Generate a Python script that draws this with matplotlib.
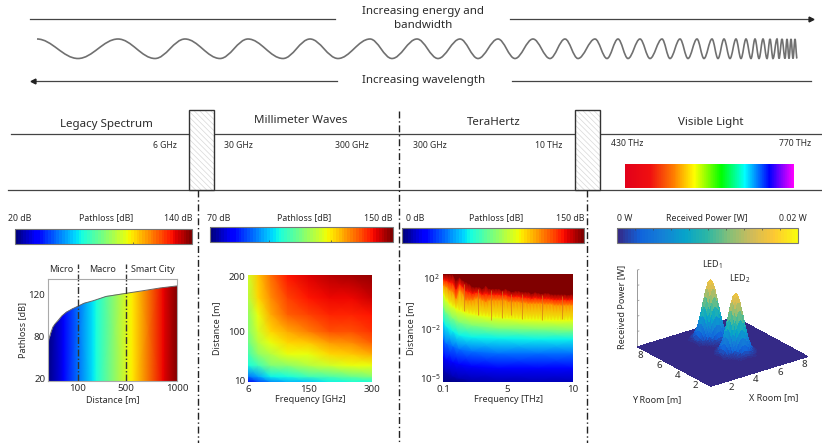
import numpy as np
import matplotlib
matplotlib.use('Agg')
import matplotlib.pyplot as plt
from matplotlib.cm import ScalarMappable
from matplotlib.colors import LinearSegmentedColormap, Normalize
from matplotlib.patches import PathPatch, Rectangle
from matplotlib.path import Path
from matplotlib.transforms import ScaledTranslation

plt.rcParams['font.family'] = ['Noto Sans', 'DejaVu Sans']
plt.rcParams['mathtext.fontset'] = 'custom'
plt.rcParams['mathtext.rm'] = 'Noto Sans'
plt.rcParams['mathtext.default'] = 'regular'
plt.rcParams['hatch.linewidth'] = 0.5

W, H = 822, 443
TXT = '#2b2b2b'
LABEL_SIZE = 6.5
TICK_SIZE = 7

# wave crests and troughs, alternating, left to right
wave_extrema = [37, 78, 118, 155, 185, 220, 248, 283, 310, 338, 370, 392, 417, 438, 460, 478,
                498, 515, 533, 550, 565, 578, 595, 607, 618, 628, 640, 650, 662, 670, 680, 688,
                697, 704, 712, 718, 724, 730, 736, 741, 746, 751, 755, 759, 763, 767, 770, 773,
                777, 779, 782, 785, 787, 789, 791, 793, 795, 797]

rainbow_pos = [0, 0.15, 0.29, 0.41, 0.57, 0.71, 0.855, 1]
rainbow_col = ['#e2001a', '#f01010', '#ff8000', '#ffff00', '#00ff00', '#00ffff', '#0000ff', '#ff00ff']
parula_col = ['#352a87', '#1064dc', '#1481d6', '#06a4ca', '#2eb7a4', '#87bf77', '#d1bb59', '#fec832', '#f9fb0e']

# legacy spectrum panel
curve_dist = [1, 1, 2, 4, 6, 10, 17, 25, 34, 47, 62, 80, 100, 150, 228, 333, 500, 669, 831, 1000]
curve_loss = [20, 63, 71, 76, 79, 83, 88.7, 92, 95, 99.5, 103, 106, 108.7, 111.5, 114, 118, 121, 123.5, 126, 128]
fill_dist = [1, 48, 54, 225, 253, 545, 569, 862, 882, 1000]
fill_db = [20, 33, 35, 62, 65, 97, 99, 127, 129, 140]
dist_ticks = [100, 500, 1000]
loss_ticks = [20, 80, 120]

# millimeter wave panel
mm_freq = [6, 30, 60, 100, 150, 200, 250, 300]
mm_dist = [10, 20, 40, 60, 80, 100, 130, 160, 200]
mm_db = [[78, 86, 90, 94, 96, 99, 100, 101],
         [89, 93, 99, 101, 104, 106, 108, 110],
         [100, 104, 110, 112, 115, 118, 120, 120],
         [104, 112, 116, 120, 121, 124, 126, 128],
         [108, 116, 121, 124, 126, 129, 131, 134],
         [110, 118, 124, 128, 132, 135, 136, 138],
         [112, 121, 128, 134, 137, 139, 139, 140],
         [115, 124, 131, 137, 140, 142, 142, 144],
         [118, 126, 133, 140, 143, 146, 147, 148]]

# terahertz panel, lower part: exponent of the distance where each dB level sits
thz_low_freq = [0.1, 0.35, 0.85, 1.35, 2.35, 4.35, 7.35, 10]
thz_low_exp = [[-5.3, -5.3, -5.3, -5.3, -5.3, -5.3, -5.3, -5.3],
               [-4.39, -4.63, -4.88, -5.0, -5.1, -5.2, -5.25, -5.25],
               [-3.65, -3.84, -4.02, -4.14, -4.27, -4.39, -4.39, -4.39],
               [-2.55, -2.86, -3.04, -3.22, -3.35, -3.47, -3.47, -3.47],
               [-1.29, -1.76, -2.12, -2.37, -2.49, -2.55, -2.61, -2.61],
               [-0.2, -0.67, -1.14, -1.45, -1.69, -1.92, -2.0, -2.06],
               [0.8, 0.33, -0.2, -0.51, -0.82, -1.08, -1.27, -1.29]]
thz_low_db = [[0, 0, 0, 2, 5, 8, 9, 9],
              [9] * 8, [19] * 8, [37] * 8, [56] * 8, [75] * 8, [95] * 8]

# terahertz panel, upper part
thz_freq = [0.1, 0.35, 0.6, 0.85, 1.1, 1.35, 1.6, 1.85, 2.1, 2.35, 2.6, 2.85, 3.1, 3.35,
            3.6, 3.85, 4.1, 4.35, 4.6, 4.85, 5.1, 5.35, 5.6, 5.85, 6.1, 6.35, 6.6, 6.85,
            7.1, 7.35, 7.6, 7.85, 8.1, 8.35, 8.6, 8.85, 9.1, 9.35, 9.6, 9.85, 10]
yellow_exp = [0.8, 0.33, 0.01, -0.2, -0.38, -0.51, -0.61, -0.69, -0.77, -0.82, -0.87, -0.93, -0.95, -0.98,
              -1.01, -1.03, -1.06, -1.08, -1.11, -1.14, -1.14, -1.16, -1.16, -1.19, -1.19, -1.22, -1.22, -1.24,
              -1.24, -1.24, -1.27, -1.27, -1.27, -1.29, -1.29, -1.29, -1.29, -1.29, -1.29, -1.29, -1.29]
orange_exp = [1.45, 1.32, 1.06, 0.93, 0.41, 1.06, 0.8, 0.27, 0.27, 0.27, 0.41, 0.41, 0.27, 0.14,
              0.27, 0.27, 0.27, 0.27, 0.27, 0.27, 0.14, 0.14, 0.14, 0.14, 0.07, 0.07, 0.01, 0.01,
              0.01, 0.01, 0.01, -0.04, -0.04, -0.04, -0.12, -0.12, -0.12, -0.12, -0.12, -0.12, -0.12]
red_exp = [1.88, 1.82, 1.69, 1.62, 1.13, 1.58, 1.32, 0.99, 0.93, 0.8, 0.87, 0.87, 0.73, 0.8,
           0.73, 0.73, 0.73, 0.73, 0.67, 0.73, 0.6, 0.55, 0.58, 0.58, 0.5, 0.5, 0.47, 0.41,
           0.47, 0.43, 0.41, 0.41, 0.41, 0.36, 0.32, 0.32, 0.32, 0.32, 0.29, 0.32, 0.32]
dark_exp = [2.31, 2.31, 2.31, 2.31, 1.84, 2.1, 1.84, 1.71, 1.58, 1.32, 1.32, 1.32, 1.19, 1.45,
            1.19, 1.19, 1.19, 1.19, 1.06, 1.19, 1.06, 0.93, 1.01, 1.01, 0.93, 0.93, 0.93, 0.8,
            0.93, 0.85, 0.8, 0.85, 0.85, 0.75, 0.75, 0.75, 0.75, 0.75, 0.69, 0.75, 0.75]
top_levels_db = [95, 113, 133, 150, 150]
# absorption lines
line_freq = [1.68, 2.78, 3.72, 4.57, 5.28, 6.1, 7.63, 9.16]
line_low = [-0.6, -0.9, -1.3, -1.1, -0.9, -1.2, -1.3, -1.2]
line_high = [1.5, 1.15, 1.05, 0.95, 0.75, 0.75, 0.65, 0.55]

# visible light panel: power in mW along a line from a LED centre outwards, 0.125 m steps
led_profile = [19.6, 19, 17.3, 14.8, 11.9, 8.9, 6.4, 4.2, 2.6, 1.5, 0.9, 0.5, 0.2]
led_cells = [(48, 36), (26, 36)]  # (y index, x index) of the two LEDs
room_ticks = [2, 4, 6, 8]


def rect_of(x0, y0, x1, y1):
    return [x0 / W, 1 - y1 / H, (x1 - x0) / W, (y1 - y0) / H]


def piecewise(vals, pos):
    return (lambda v: np.interp(v, vals, pos), lambda p: np.interp(p, pos, vals))


def style_axes(ax, edge=None):
    ax.tick_params(length=0, labelsize=TICK_SIZE, labelcolor=TXT, pad=2)
    for s in ax.spines.values():
        s.set_visible(edge is not None)
        if edge:
            s.set_color(edge)
            s.set_linewidth(0.8)


def nudge(label, px):
    # move a tick label up by px pixels
    label.set_transform(label.get_transform() + ScaledTranslation(0, px / 100, fig.dpi_scale_trans))


def pixel_axes(z):
    ax = fig.add_axes([0, 0, 1, 1], zorder=z)
    ax.set_xlim(0, W)
    ax.set_ylim(H, 0)
    ax.set_xticks([])
    ax.set_yticks([])
    ax.axis('off')
    return ax


def draw_bar(rect, cmap, lo, hi, ticks=(), top=False):
    cax = fig.add_axes(rect_of(*rect))
    cb = fig.colorbar(ScalarMappable(Normalize(lo, hi), cmap), cax=cax, orientation='horizontal')
    cb.set_ticks(ticks)
    cb.minorticks_off()
    cb.outline.set_edgecolor('#777777')
    cb.outline.set_linewidth(0.8)
    cax.tick_params(direction='in', length=1.5, width=0.5, color='#444444', labelbottom=False,
                    bottom=not top, top=top)
    return cb


fig = plt.figure(figsize=(W / 100, H / 100), dpi=100)

# page level drawing, in pixels
bg = pixel_axes(0)

# wave as bezier arcs between crests and troughs
verts = []
codes = []
for i, xv in enumerate(wave_extrema):
    yv = 39 if i % 2 == 0 else 58.5
    if i == 0:
        verts.append((xv, yv))
        codes.append(Path.MOVETO)
    else:
        xp = wave_extrema[i - 1]
        yp = 39 if i % 2 == 1 else 58.5
        dx = (xv - xp) * 0.36
        verts += [(xp + dx, yp), (xv - dx, yv), (xv, yv)]
        codes += [Path.CURVE4] * 3
bg.add_patch(PathPatch(Path(verts, codes), fc='none', ec='#707070', lw=1.2))

for x0, x1, y in [(30, 335, 19), (33, 337, 81), (510, 811, 19), (512, 811, 81)]:
    bg.plot([x0, x1], [y, y], color='#444444', lw=0.9)
bg.plot(811, 19, marker='>', ms=3.5, color='#222222')
bg.plot(33, 81, marker='<', ms=3.5, color='#222222')

bg.text(423, 11, 'Increasing energy and', ha='center', va='center', fontsize=8.3, color=TXT)
bg.text(423, 25, 'bandwidth', ha='center', va='center', fontsize=8.3, color=TXT)
bg.text(424, 80, 'Increasing wavelength', ha='center', va='center', fontsize=8.3, color=TXT)

bg.plot([11, 822], [133.5, 133.5], color='#444444', lw=0.9)
bg.plot([8, 822], [190, 190], color='#444444', lw=0.9)

for bx in (189, 575):
    bg.add_patch(Rectangle((bx, 110), 25, 80, fc='white', ec='#d8d8d8', hatch='\\\\\\\\\\\\', lw=0, zorder=3))
    bg.add_patch(Rectangle((bx, 110), 25, 80, fc='none', ec='#333333', lw=1, zorder=4))

for x0, y0 in [(198, 190), (399, 111), (587, 190)]:
    bg.plot([x0, x0], [y0, H], color='#222222', lw=1, ls=(0, (5, 2, 1, 2)))

for txt, cx, cy in [('Legacy Spectrum', 106, 124), ('Millimeter Waves', 301, 120),
                    ('TeraHertz', 494, 122), ('Visible Light', 711, 122)]:
    bg.text(cx, cy, txt, ha='center', va='center', fontsize=8.3, color=TXT)
for txt, cx, cy in [('6 GHz', 165, 145), ('30 GHz', 238, 146), ('300 GHz', 352, 146), ('300 GHz', 430, 146),
                    ('10 THz', 549, 146), ('430 THz', 627, 144), ('770 THz', 795, 143)]:
    bg.text(cx, cy, txt, ha='center', va='center', fontsize=6.2, color=TXT)

for txt, cx in [('20 dB', 20), ('Pathloss [dB]', 106), ('140 dB', 178),
                ('70 dB', 219), ('Pathloss [dB]', 304), ('150 dB', 378),
                ('0 dB', 415), ('Pathloss [dB]', 496), ('150 dB', 570),
                ('0 W', 625), ('Received Power [W]', 707), ('0.02 W', 793)]:
    bg.text(cx, 218, txt, ha='center', va='center', fontsize=6.3, color=TXT)

# rainbow of the visible band
rainbow = LinearSegmentedColormap.from_list('rainbow_vis', list(zip(rainbow_pos, rainbow_col)))
draw_bar((625, 164, 794, 188), rainbow, 0, 1)
fig.axes[-1].spines['outline'].set_visible(False)

jet = plt.get_cmap('jet', 64)
parula = LinearSegmentedColormap.from_list('parula_like', parula_col, N=64)
draw_bar((15, 229, 192, 244), jet, 20, 140, ticks=[100])
draw_bar((210, 227, 393, 242), jet, 70, 150, ticks=[96, 123])
draw_bar((402, 228, 584, 243), jet, 0, 150)
draw_bar((617, 228, 798, 243), parula, 0, 20, ticks=[2, 4, 6, 8, 10, 12, 14, 16, 18], top=True)

# legacy spectrum
ax1 = fig.add_axes(rect_of(48, 279, 177, 381))
ax1.set_xscale('function', functions=piecewise([1, 100, 500, 1000], [48, 78, 126, 177]))
ax1.set_yscale('function', functions=piecewise([20, 80, 120, 135, 150], [-381, -336, -294, -278, -263]))
fill_rows = [20, 135]
fill_c = np.array([fill_db, fill_db])
mesh = ax1.pcolormesh(fill_dist, fill_rows, fill_c, cmap=jet, vmin=20, vmax=140, shading='gouraud')
edge = list(zip(curve_dist, curve_loss)) + [(1000, 20), (1, 20), (1, 20)]
clip = PathPatch(Path(edge, closed=True), transform=ax1.transData, fc='none', ec='none')
ax1.add_patch(clip)
mesh.set_clip_path(clip)
ax1.plot(curve_dist[1:], curve_loss[1:], color='#666666', lw=0.7)
ax1.set_xlim(1, 1000)
ax1.set_ylim(20, 134.5)
ax1.set_xticks(dist_ticks)
ax1.set_yticks(loss_ticks)
ax1.minorticks_off()
style_axes(ax1, edge='#aaaaaa')
nudge(ax1.get_yticklabels()[0], 3)
ax1.set_xlabel('Distance [m]', fontsize=LABEL_SIZE, color=TXT, labelpad=2)
ax1.set_ylabel('Pathloss [dB]', fontsize=LABEL_SIZE, color=TXT, labelpad=1)
for d in (100, 500):
    ax1.plot([d, d], [20, 150], color='#333333', lw=1, ls=(0, (5, 1.5, 1, 1.5)), clip_on=False)
for txt, cx in [('Micro', 61), ('Macro', 103), ('Smart City', 153)]:
    bg.text(cx, 270, txt, ha='center', va='center', fontsize=LABEL_SIZE, color=TXT)

# millimeter waves
ax2 = fig.add_axes(rect_of(248, 275, 372, 382))
ax2.pcolormesh(mm_freq, mm_dist, np.array(mm_db), cmap=jet, vmin=70, vmax=150, shading='gouraud')
ax2.set_xlim(6, 300)
ax2.set_ylim(10, 200)
ax2.set_xticks([6, 150, 300])
ax2.set_yticks([10, 100, 200])
style_axes(ax2)
nudge(ax2.get_yticklabels()[0], 2)
nudge(ax2.get_yticklabels()[2], -2)
ax2.set_xlabel('Frequency [GHz]', fontsize=LABEL_SIZE, color=TXT, labelpad=1)
ax2.set_ylabel('Distance [m]', fontsize=LABEL_SIZE, color=TXT, labelpad=5)

# terahertz
ax3 = fig.add_axes(rect_of(443, 274, 573, 382))
ax3.set_yscale('function', functions=piecewise([-6, -5, -2, 2, 3], [-394.3, -378, -329, -278, -265.2]))
low_x = np.tile(thz_low_freq, (len(thz_low_exp), 1))
ax3.pcolormesh(low_x, np.array(thz_low_exp), np.array(thz_low_db), cmap=jet, vmin=0, vmax=150,
               shading='gouraud')
top_y = np.array([yellow_exp, orange_exp, red_exp, dark_exp, [2.4] * len(thz_freq)])
top_x = np.tile(thz_freq, (top_y.shape[0], 1))
top_c = np.tile(np.array(top_levels_db)[:, None], (1, len(thz_freq)))
ax3.pcolormesh(top_x, top_y, top_c, cmap=jet, vmin=0, vmax=150, shading='gouraud')
ax3.vlines(line_freq, line_low, line_high, color='#d9761a', lw=0.7, alpha=0.7)
ax3.set_xlim(0.1, 10)
ax3.set_ylim(-5.245, 2.31)
ax3.set_xticks([0.1, 5, 10], ['0.1', '5', '10'])
ax3.set_yticks([-5, -2, 2], ['$10^{-5}$', '$10^{-2}$', '$10^{2}$'])
ax3.minorticks_off()
style_axes(ax3)
ax3.set_xlabel('Frequency [THz]', fontsize=LABEL_SIZE, color=TXT, labelpad=1)
ax3.set_ylabel('Distance [m]', fontsize=LABEL_SIZE, color=TXT, labelpad=3)

# visible light
profile = np.array(led_profile)
line = np.concatenate([profile[:0:-1], profile])
foot = np.outer(line, line) / profile[0]
n_cells = len(led_profile) - 1
room_m = np.arange(0, 8.125, 0.125)
Z = np.zeros((room_m.size, room_m.size))
for iy, ix in led_cells:
    part = Z[iy - n_cells:iy + n_cells + 1, ix - n_cells:ix + n_cells + 1]
    part[:] = np.maximum(part, foot)
X, Y = np.meshgrid(room_m, room_m)

ax4 = fig.add_axes(rect_of(620, 216, 820, 416), projection='3d')
ax4.patch.set_alpha(0)
ax4.set_proj_type('ortho')
ax4.view_init(elev=24, azim=-127)
ax4.set_box_aspect((1, 1, 0.69), zoom=0.93)
ax4.plot_surface(X, Y, Z, cmap=parula, vmin=0, vmax=23, rstride=1, cstride=1, linewidth=0,
                 antialiased=False, shade=False)
ax4.set_xlim(0, 8)
ax4.set_ylim(0, 8)
ax4.set_zlim(0, 25)
ax4.set_xticks([])
ax4.set_yticks([])
ax4.set_zticks([])
ax4.set_axis_off()
ax4.plot([0, 0], [8, 8], [0, 25], color='#999999', lw=0.7)
for zt in (5, 10, 15, 20, 25):
    ax4.plot([0, 0.12], [8, 8], [zt, zt], color='#999999', lw=0.6)
for t in room_ticks:
    ax4.text(t - 0.97, -0.93, 0, str(t), fontsize=TICK_SIZE, color=TXT, ha='center', va='center')
    ax4.text(-0.73, t - 1.31, 0, str(t), fontsize=TICK_SIZE, color=TXT, ha='center', va='center')

top = pixel_axes(10)
top.text(712, 265, 'LED$_{1}$', ha='center', va='center', fontsize=LABEL_SIZE, color=TXT)
top.text(740, 279, 'LED$_{2}$', ha='center', va='center', fontsize=LABEL_SIZE, color=TXT)
top.text(657, 400, 'Y Room [m]', ha='center', va='center', fontsize=LABEL_SIZE, color=TXT)
top.text(774, 398, 'X Room [m]', ha='center', va='center', fontsize=LABEL_SIZE, color=TXT)
top.text(622, 307, 'Received Power [W]', ha='center', va='center', rotation=90, fontsize=LABEL_SIZE, color=TXT)

fig.savefig('out.png', dpi=100)
